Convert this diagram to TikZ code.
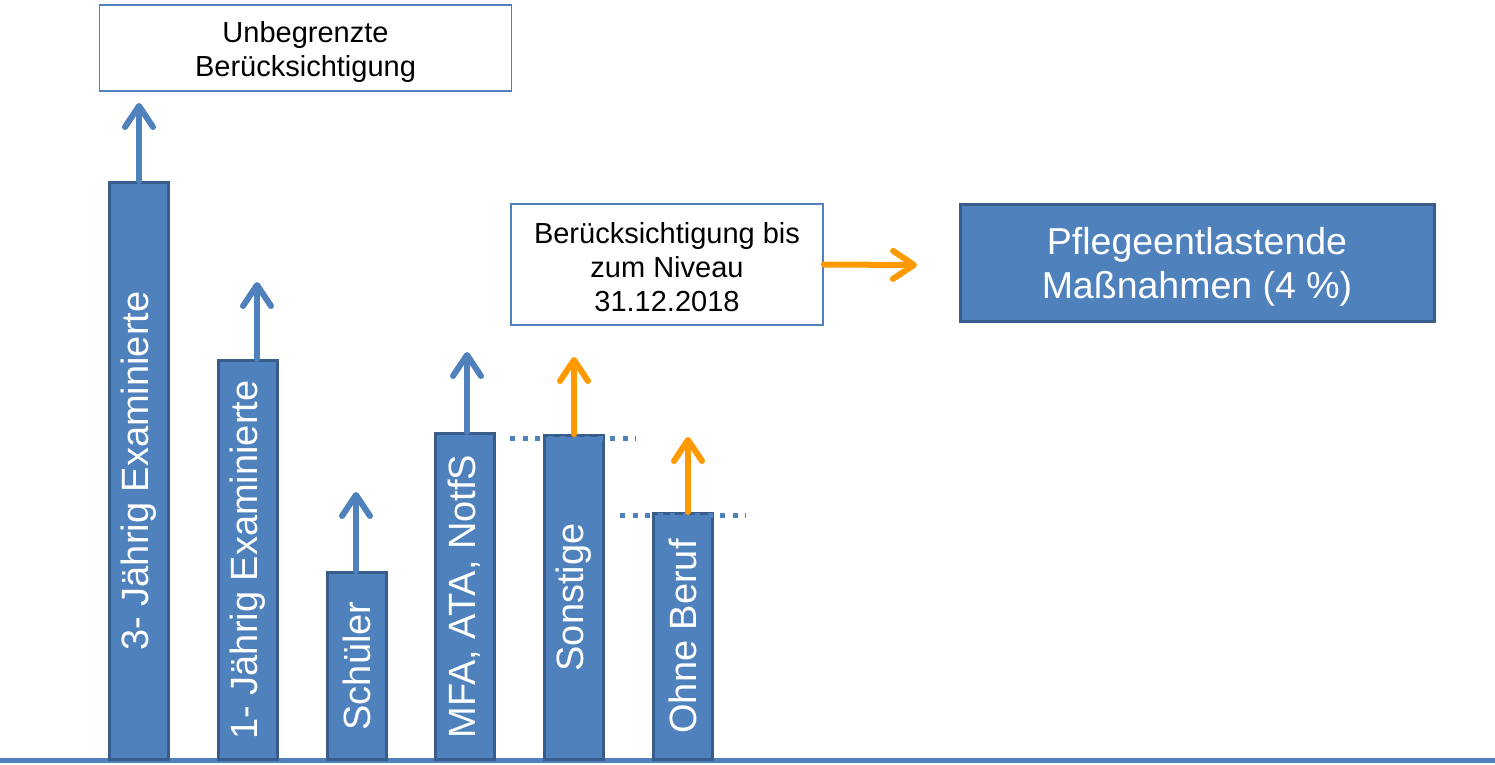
\documentclass[tikz,border=0pt]{standalone}
\usepackage{fontspec}
\setmainfont{Liberation Sans}
\usetikzlibrary{arrows.meta}
\definecolor{barblue}{HTML}{4F81BD}
\definecolor{bardark}{HTML}{385D8A}
\definecolor{arrorange}{HTML}{FF9900}
\tikzset{
  barbox/.style={draw=bardark, fill=barblue, line width=3pt, inner sep=0pt, anchor=south},
  barlabel/.style={rotate=90, text=white, font=\fontsize{38}{44}\selectfont, inner sep=0pt},
  upblue/.style={draw=barblue, line width=6pt, line cap=round, line join=round, -{Straight Barb[length=21pt,width=28pt,line cap=round,line join=round]}},
  uporange/.style={draw=arrorange, line width=6pt, line cap=round, line join=round, -{Straight Barb[length=21pt,width=28pt,line cap=round,line join=round]}},
  infobox/.style={draw=barblue, line width=1.5pt, fill=white, inner sep=0pt},
  infotext/.style={align=center, inner sep=0pt, font=\fontsize{29}{34}\selectfont},
  levelline/.style={draw=barblue, line width=5pt, dash pattern=on 5pt off 7.5pt},
}
\begin{document}
\begin{tikzpicture}[x=1pt,y=-1pt]
\useasboundingbox (0,0) rectangle (1495,764);
% baseline
\coordinate (gl) at (0,760);
\coordinate (gr) at (1495,760);
\draw[barblue, line width=5pt] (gl) -- (gr);
% bars
\node[barbox, minimum width=59pt, minimum height=577pt] (b1) at (138.5,761) {};
\node[barbox, minimum width=59pt, minimum height=399pt] (b2) at (247.5,761) {};
\node[barbox, minimum width=59pt, minimum height=187pt] (b3) at (356.5,761) {};
\node[barbox, minimum width=59pt, minimum height=326pt] (b4) at (464.5,761) {};
\node[barbox, minimum width=59pt, minimum height=324pt] (b5) at (573.5,761) {};
\node[barbox, minimum width=59pt, minimum height=246pt] (b6) at (682.5,761) {};
\node[barlabel] (l1) at (b1.center) {3- Jährig Examinierte};
\node[barlabel] (l2) at (b2.center) {1- Jährig Examinierte};
\node[barlabel] (l3) at (b3.center) {Schüler};
\node[barlabel] (l4) at (b4.center) {MFA, ATA, NotfS};
\node[barlabel] (l5) at (b5.center) {Sonstige};
\node[barlabel] (l6) at (b6.center) {Ohne Beruf};
% level lines
\coordinate (d1a) at (510,438);
\coordinate (d1b) at (636,438);
\coordinate (d2a) at (620,515);
\coordinate (d2b) at (746,515);
\draw[levelline] (d1a) -- (d1b);
\draw[levelline] (d2a) -- (d2b);
% arrow tips
\coordinate (t1) at (139,103);
\coordinate (t2) at (257,282);
\coordinate (t3) at (356,492);
\coordinate (t4) at (467,352);
\coordinate (t5) at (574,357);
\coordinate (t6) at (688,437);
\draw[upblue] (b1.north -| t1) -- (t1);
\draw[upblue] (b2.north -| t2) -- (t2);
\draw[upblue] (b3.north -| t3) -- (t3);
\draw[upblue] (b4.north -| t4) -- (t4);
\draw[uporange] (b5.north -| t5) -- (t5);
\draw[uporange] (b6.north -| t6) -- (t6);
% boxes
\node[infobox, minimum width=412pt, minimum height=86pt] (u) at (305.5,48) {};
\node[infotext] (ut) at (305.5,52) {Unbegrenzte\\Berücksichtigung};
\node[infobox, minimum width=312pt, minimum height=121pt] (bb) at (667,264.5) {};
\node[infotext] (bt) at (667,267) {Berücksichtigung bis\\zum Niveau\\31.12.2018};
\node[draw=bardark, fill=barblue, line width=3pt, minimum width=474pt, minimum height=117pt, inner sep=0pt] (p) at (1197,262.5) {};
\node[text=white, align=center, inner sep=0pt, font=\fontsize{37.5}{44}\selectfont] (pt) at (1197,267) {Pflegeentlastende\\Maßnahmen (4 \%)};
\coordinate (ot) at (917,265);
\draw[uporange] (bb.east) -- (ot);
\end{tikzpicture}
\end{document}
